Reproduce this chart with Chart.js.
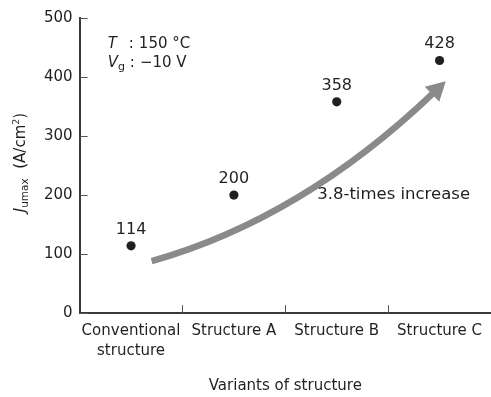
<!DOCTYPE html>
<html>
<head>
<meta charset="utf-8">
<script src="https://cdn.jsdelivr.net/npm/chart.js@4"></script>
<style>
  html, body { margin: 0; padding: 0; background: #fff; }
  #wrap { width: 491px; height: 397px; }
</style>
</head>
<body>
<div id="wrap"><canvas id="jumaxChart" width="491" height="397"></canvas></div>
<script>
// ── data
const categories = [['Conventional', 'structure'], 'Structure A', 'Structure B', 'Structure C'];
const jumaxValues = [114, 200, 358, 428];
const yTicks = [0, 100, 200, 300, 400, 500];
const increaseLabel = '3.8-times increase';

// arrow annotation in data units (category index, value)
const arrowStart = { x: 0.2, y: 88 };
const arrowCtrl = { x: 1.66, y: 160 };
const arrowTip = { x: 3.06, y: 393 };

const FONT = "'DejaVu Sans', Verdana, sans-serif";
const INK = '#231f20';
const AXIS = '#3d3636';
const ARROW = '#8a8a8a';

// ── 추가 그리기 (inward ticks, labels, arrow, titles)
const decorPlugin = {
  id: 'decor',
  afterDatasetsDraw(chart) {
    const { ctx, chartArea: a, scales: { x, y } } = chart;
    ctx.save();

    // inward tick marks
    ctx.strokeStyle = '#5a5454';
    ctx.lineWidth = 1;
    yTicks.forEach(v => {
      const py = Math.round(y.getPixelForValue(v)) + 0.5;
      ctx.beginPath(); ctx.moveTo(a.left, py); ctx.lineTo(a.left + 8, py); ctx.stroke();
    });
    for (let i = 1; i < categories.length; i++) {
      const px = Math.round((x.getPixelForValue(i - 1) + x.getPixelForValue(i)) / 2) + 0.5;
      ctx.beginPath(); ctx.moveTo(px, a.bottom); ctx.lineTo(px, a.bottom - 8); ctx.stroke();
    }

    // curved arrow
    const P = p => ({ x: x.getPixelForValue(p.x), y: y.getPixelForValue(p.y) });
    const s = P(arrowStart), c = P(arrowCtrl), t = P(arrowTip);
    let dx = t.x - c.x, dy = t.y - c.y;
    const len = Math.hypot(dx, dy); dx /= len; dy /= len;
    const headLen = 19, headHalf = 10.5;
    const b = { x: t.x - dx * headLen, y: t.y - dy * headLen };
    ctx.strokeStyle = ARROW;
    ctx.lineWidth = 6.5;
    ctx.lineCap = 'butt';
    ctx.beginPath();
    ctx.moveTo(s.x, s.y);
    ctx.quadraticCurveTo(c.x, c.y, b.x + dx * 2, b.y + dy * 2);
    ctx.stroke();
    ctx.fillStyle = ARROW;
    ctx.beginPath();
    ctx.moveTo(t.x, t.y);
    ctx.lineTo(b.x - dy * headHalf, b.y + dx * headHalf);
    ctx.lineTo(b.x + dy * headHalf, b.y - dx * headHalf);
    ctx.closePath();
    ctx.fill();

    // value labels
    ctx.fillStyle = INK;
    ctx.font = `16px ${FONT}`;
    ctx.textAlign = 'center';
    ctx.textBaseline = 'alphabetic';
    const meta = chart.getDatasetMeta(0);
    meta.data.forEach((pt, i) => {
      ctx.fillText(String(jumaxValues[i]), pt.x, pt.y - 12);
    });

    // increase text
    ctx.font = `16.5px ${FONT}`;
    ctx.textAlign = 'left';
    ctx.textBaseline = 'middle';
    ctx.fillText(increaseLabel, x.getPixelForValue(1.81), y.getPixelForValue(200));

    // conditions text
    const tx = a.left + 28;
    const drawRuns = (runs, px, py) => {
      runs.forEach(r => {
        ctx.font = r.font;
        ctx.fillText(r.text, px + (r.dx || 0), py + (r.dy || 0));
        px += ctx.measureText(r.text).width + (r.dx || 0);
      });
    };
    ctx.textBaseline = 'alphabetic';
    drawRuns([
      { text: 'T', font: `italic 15px ${FONT}` },
      { text: ':', font: `15px ${FONT}`, dx: 12 },
      { text: '150 °C', font: `15px ${FONT}`, dx: 5 }
    ], tx, a.top + 30);
    drawRuns([
      { text: 'V', font: `italic 15px ${FONT}` },
      { text: 'g', font: `11px ${FONT}`, dy: 3 },
      { text: ':', font: `15px ${FONT}`, dx: 5 },
      { text: '\u221210 V', font: `15px ${FONT}`, dx: 5 }
    ], tx, a.top + 49);

    // y axis title (rotated, with italic J and sub/superscript)
    const yRuns = [
      { text: 'J', font: `italic 15px ${FONT}` },
      { text: 'umax', font: `10.5px ${FONT}`, dy: 3 },
      { text: '  (A/cm', font: `15px ${FONT}` },
      { text: '2', font: `9.5px ${FONT}`, dy: -6 },
      { text: ')', font: `15px ${FONT}` }
    ];
    let total = 0;
    yRuns.forEach(r => { ctx.font = r.font; total += ctx.measureText(r.text).width; });
    ctx.translate(25, (a.top + a.bottom) / 2 - 3);
    ctx.rotate(-Math.PI / 2);
    drawRuns(yRuns, -total / 2, 0);

    ctx.restore();
  }
};

const ctx = document.getElementById('jumaxChart');
new Chart(ctx, {
  type: 'line',
  data: {
    labels: categories,
    datasets: [{
      data: jumaxValues,
      showLine: false,
      pointRadius: 4.6,
      pointBackgroundColor: INK,
      pointBorderWidth: 0
    }]
  },
  options: {
    responsive: false,
    animation: false,
    devicePixelRatio: 1,
    layout: { autoPadding: false, padding: { left: 37, right: 0, top: 18, bottom: 2 } },
    plugins: {
      legend: { display: false },
      tooltip: { enabled: false }
    },
    scales: {
      x: {
        type: 'category',
        offset: true,
        grid: { display: false, drawTicks: false },
        border: { display: true, color: AXIS, width: 2 },
        ticks: {
          color: INK,
          padding: 8,
          maxRotation: 0,
          autoSkip: false,
          font: { family: FONT, size: 15, lineHeight: 1.33 }
        },
        title: {
          display: true,
          text: 'Variants of structure',
          color: INK,
          padding: { top: 8, bottom: 0 },
          font: { family: FONT, size: 15 }
        }
      },
      y: {
        min: 0,
        max: 500,
        afterBuildTicks: scale => { scale.ticks = yTicks.map(v => ({ value: v })); },
        grid: { display: false, drawTicks: false },
        border: { display: true, color: AXIS, width: 2 },
        ticks: {
          color: INK,
          padding: 7,
          font: { family: FONT, size: 15 }
        }
      }
    }
  },
  plugins: [decorPlugin]
});
</script>
</body>
</html>
